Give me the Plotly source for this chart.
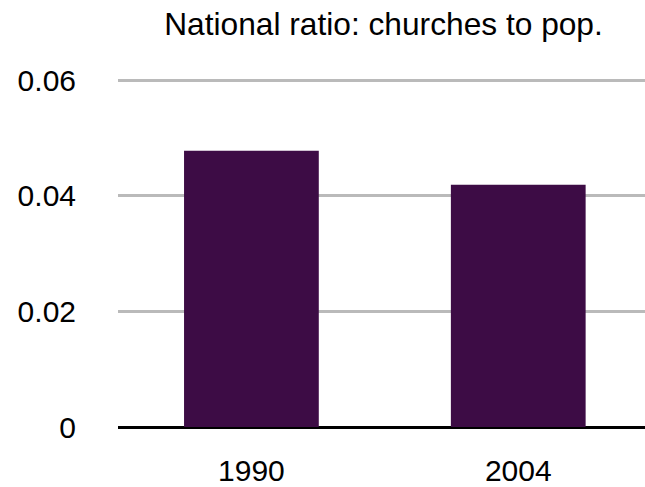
import plotly.graph_objects as go

categories = ["1990", "2004"]
ratios = [0.0478, 0.0419]
y_ticks = [0, 0.02, 0.04, 0.06]
y_tick_labels = ["0", "0.02", "0.04", "0.06"]
title_text = "National ratio: churches to pop."

FONT = "Liberation Sans, Arial, Helvetica, sans-serif"

fig = go.Figure(
    go.Bar(
        x=categories,
        y=ratios,
        width=0.505,
        marker=dict(color="#3d0c45", line=dict(width=0)),
    )
)

fig.update_layout(
    width=645,
    height=487,
    margin=dict(l=118, r=0, t=79, b=60, autoexpand=False),
    paper_bgcolor="white",
    plot_bgcolor="white",
    showlegend=False,
    font=dict(family=FONT, size=30, color="black"),
    title=dict(
        text=title_text,
        x=0.5946,
        xanchor="center",
        y=0.951,
        yanchor="middle",
        font=dict(family=FONT, size=31.7, color="black"),
    ),
)

fig.update_xaxes(
    type="category",
    range=[-0.5, 1.475],
    automargin=False,
    showgrid=False,
    showline=False,
    zeroline=False,
    ticks="outside",
    ticklen=17,
    tickcolor="rgba(0,0,0,0)",
    tickfont=dict(family=FONT, size=30, color="black"),
)

fig.update_yaxes(
    range=[0, 0.0602],
    automargin=False,
    tickvals=y_ticks,
    ticktext=y_tick_labels,
    showgrid=True,
    gridcolor="#bababa",
    gridwidth=2.5,
    zeroline=True,
    zerolinecolor="black",
    zerolinewidth=3,
    showline=False,
    ticks="outside",
    ticklen=35,
    tickcolor="rgba(0,0,0,0)",
    tickfont=dict(family=FONT, size=30, color="black"),
)

fig.write_html("out.html")
